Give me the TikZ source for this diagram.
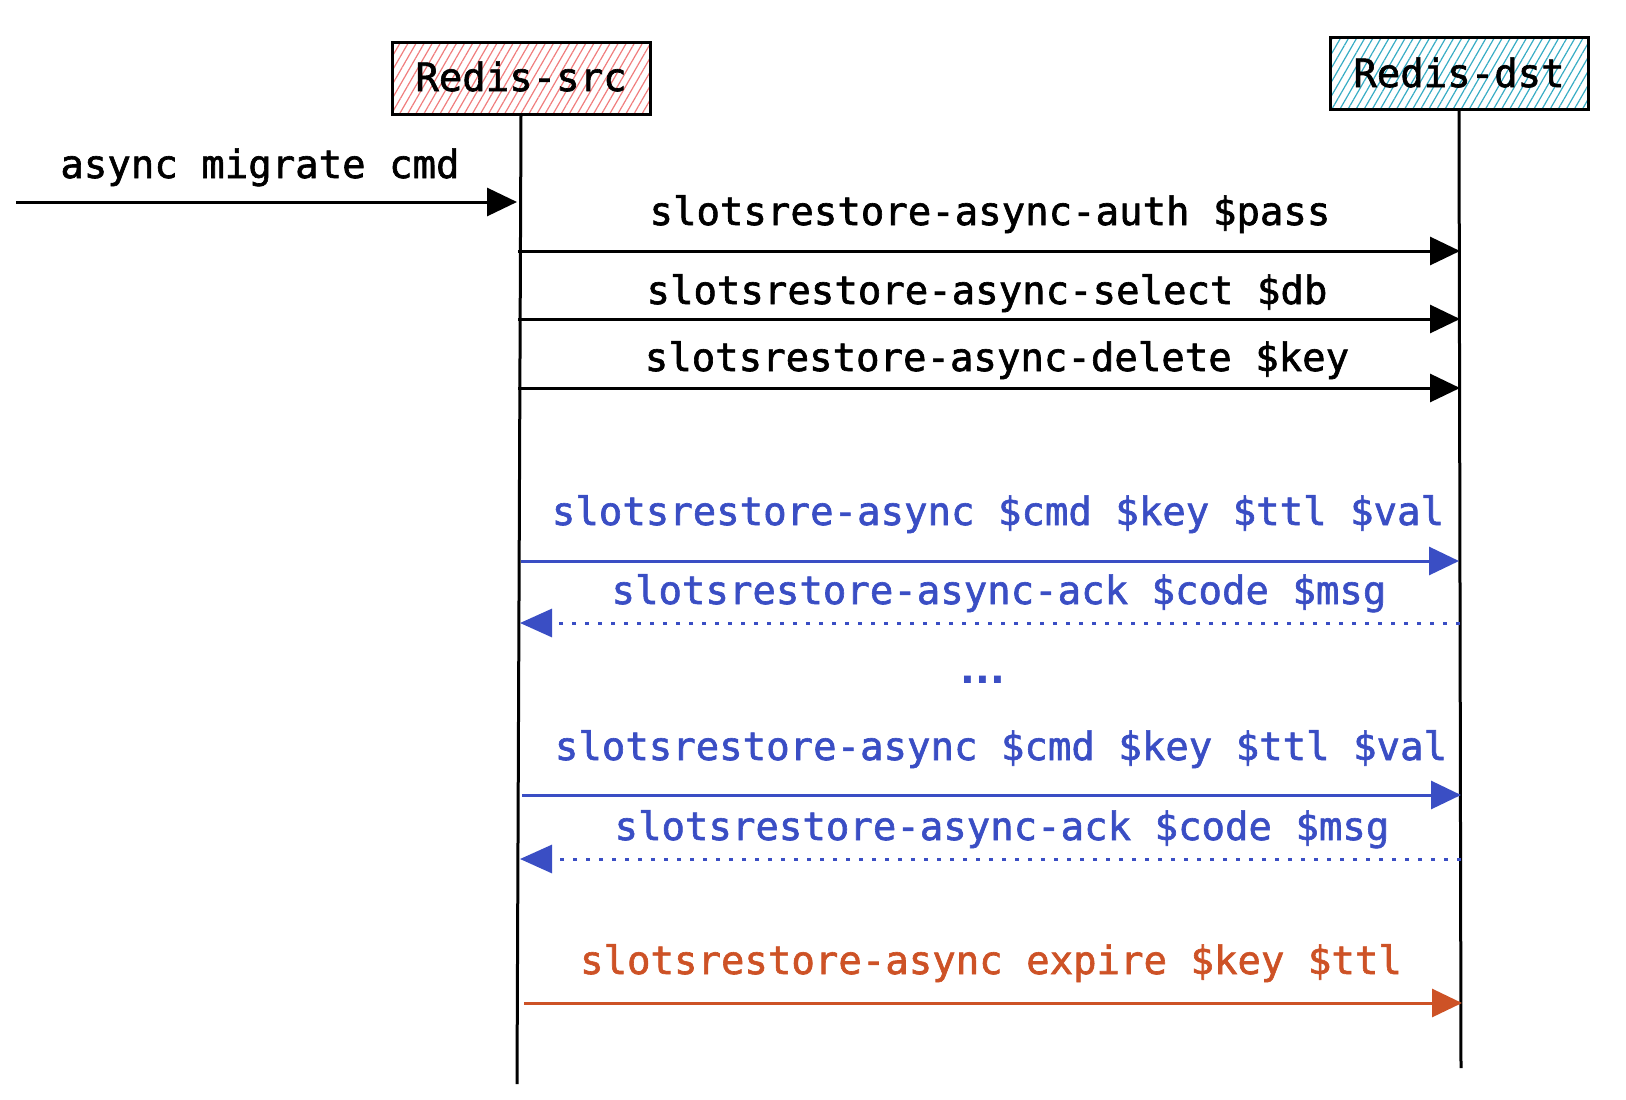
\documentclass[tikz,border=0pt]{standalone}
\usepackage{fontspec}
\newfontfamily\codefont[FakeBold=1.6]{DejaVu Sans Mono}
\newfontfamily\dotfont{DejaVu Sans}
\usetikzlibrary{arrows.meta,patterns.meta}
\definecolor{msgblue}{RGB}{58,78,196}
\definecolor{msgorange}{RGB}{205,82,38}
\definecolor{hatchred}{RGB}{240,125,125}
\definecolor{hatchteal}{RGB}{55,172,196}
\tikzset{
  lbl/.style={font=\codefont\fontsize{39}{45}\selectfont, anchor=base, inner sep=0pt},
  actor/.style={draw=black, line width=3pt, minimum width=258pt, minimum height=72pt, inner sep=0pt},
  lifeline/.style={draw=black, line width=3pt},
  call/.style={line width=3pt, -{Triangle[length=30pt,width=28pt]}},
  reply/.style={line width=3pt, dash pattern=on 4pt off 9pt, -{Triangle[length=32pt,width=28pt]}},
}
\begin{document}
\begin{tikzpicture}[x=1pt,y=-1pt]
\useasboundingbox (0,0) rectangle (1626,1100);
% actors
\node[actor, pattern={Lines[angle=60,distance=7pt,line width=1.2pt]}, pattern color=hatchred] (src) at (521,78.5) {};
\node[lbl] (srclbl) at (521,91) {Redis-src};
\node[actor, pattern={Lines[angle=60,distance=7pt,line width=1.2pt]}, pattern color=hatchteal] (dst) at (1459,73.5) {};
\node[lbl] (dstlbl) at (1459,87) {Redis-dst};
% lifelines
\coordinate (srcend) at (517,1084);
\coordinate (dstend) at (1461,1068);
\draw[lifeline] (src.south) -- (srcend);
\draw[lifeline] (dst.south) -- (dstend);
% incoming command
\coordinate (in0) at (16,202);
\coordinate (in1) at (517,202);
\draw[call] (in0) -- (in1);
\node[lbl] (inlbl) at (260,178) {async migrate cmd};
% black calls
\coordinate (s1) at (518,251); \coordinate (d1) at (1460,251);
\coordinate (s2) at (518,319); \coordinate (d2) at (1460,319);
\coordinate (s3) at (518,388); \coordinate (d3) at (1460,388);
\draw[call] (s1) -- (d1);
\draw[call] (s2) -- (d2);
\draw[call] (s3) -- (d3);
\node[lbl] (l1) at (990,225) {slotsrestore-async-auth \$pass};
\node[lbl] (l2) at (987,304) {slotsrestore-async-select \$db};
\node[lbl] (l3) at (997,371) {slotsrestore-async-delete \$key};
% blue exchange 1
\coordinate (s4) at (521,561); \coordinate (d4) at (1459,561);
\coordinate (s5) at (520,623); \coordinate (d5) at (1460,623);
\draw[call, msgblue] (s4) -- (d4);
\draw[reply, msgblue] (d5) -- (s5);
\node[lbl, text=msgblue] (l4) at (998,525) {slotsrestore-async \$cmd \$key \$ttl \$val};
\node[lbl, text=msgblue] (l5) at (999,604) {slotsrestore-async-ack \$code \$msg};
\node[lbl, text=msgblue, font=\dotfont\bfseries\fontsize{39}{45}\selectfont] (dots) at (983,683) {...};
% blue exchange 2
\coordinate (s6) at (522,795); \coordinate (d6) at (1461,795);
\coordinate (s7) at (520,859); \coordinate (d7) at (1461,859);
\draw[call, msgblue] (s6) -- (d6);
\draw[reply, msgblue] (d7) -- (s7);
\node[lbl, text=msgblue] (l6) at (1001,760) {slotsrestore-async \$cmd \$key \$ttl \$val};
\node[lbl, text=msgblue] (l7) at (1002,840) {slotsrestore-async-ack \$code \$msg};
% orange expire
\coordinate (s8) at (524,1003); \coordinate (d8) at (1462,1003);
\draw[call, msgorange] (s8) -- (d8);
\node[lbl, text=msgorange] (l8) at (991,974) {slotsrestore-async expire \$key \$ttl};
\end{tikzpicture}
\end{document}
